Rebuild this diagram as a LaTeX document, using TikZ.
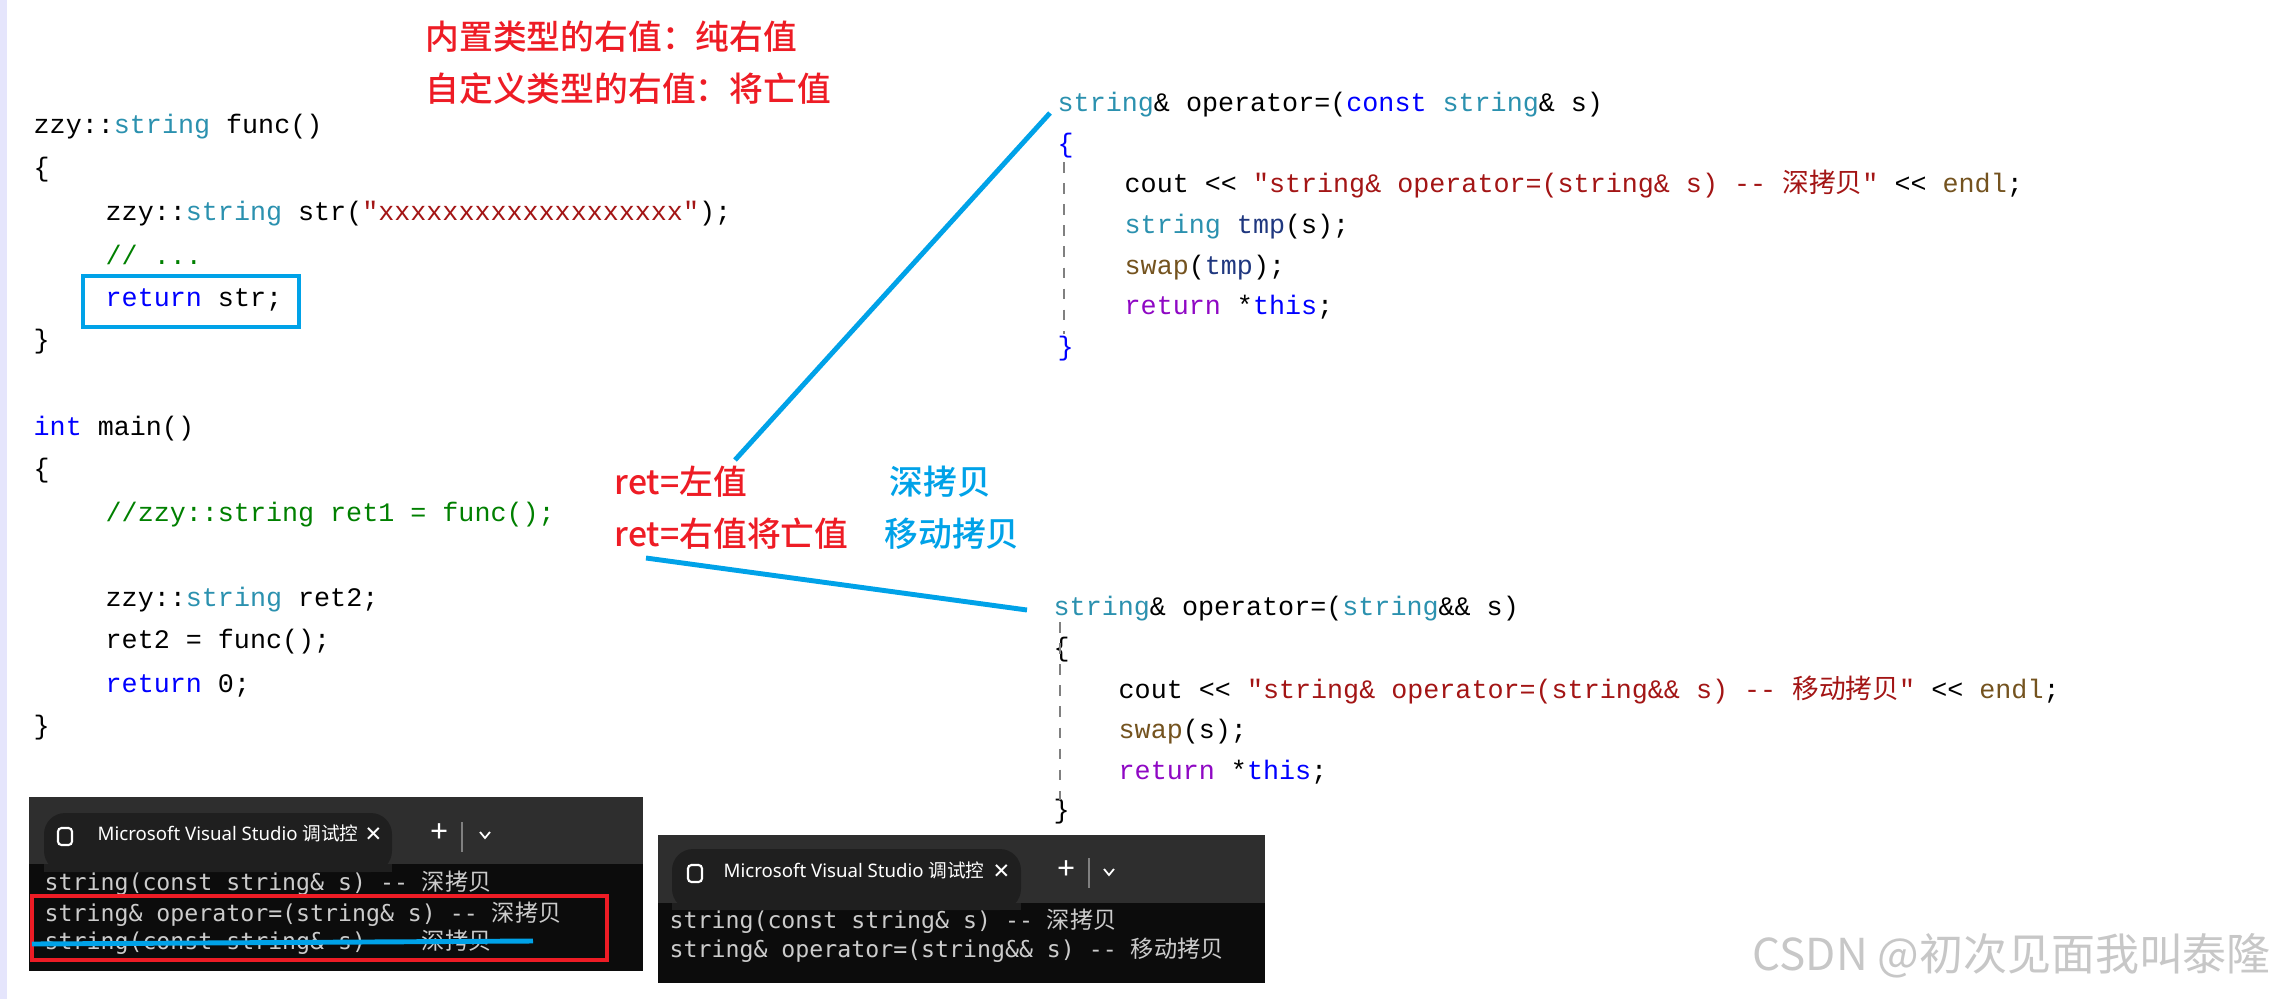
\documentclass[tikz,border=0pt]{standalone}
\usepackage{fontspec}
\setmonofont{Liberation Mono}
\newfontfamily\cjk{Noto Sans CJK SC}
\newfontfamily\cjkb{Noto Sans CJK SC Medium}
\newfontfamily\termfont{DejaVu Sans Mono}
\newfontfamily\uifont{Noto Sans}
\newfontfamily\symfont{DejaVu Sans}
\definecolor{kw}{HTML}{0000FF}
\definecolor{ty}{HTML}{2B91AF}
\definecolor{st}{HTML}{A31515}
\definecolor{cm}{HTML}{008000}
\definecolor{fn}{HTML}{74531F}
\definecolor{rt}{HTML}{8F08C4}
\definecolor{vr}{HTML}{1F377F}
\definecolor{note}{HTML}{EE1C25}
\definecolor{lnk}{HTML}{00A2E8}
\definecolor{tbar}{HTML}{2E2E2E}
\definecolor{ttab}{HTML}{1F1F1F}
\definecolor{tbody}{HTML}{0C0C0C}
\definecolor{ttext}{HTML}{CCCCCC}
\newcommand{\C}[1]{{\cjk #1}}
\begin{document}
\begin{tikzpicture}[x=0.01cm,y=-0.01cm,
  code/.style={anchor=base west,inner sep=0pt,font=\ttfamily\fontsize{7.6}{9}\selectfont},
  notered/.style={anchor=base west,inner sep=0pt,text=note,font=\cjkb\fontsize{9.6}{12}\selectfont},
  noteblue/.style={anchor=base west,inner sep=0pt,text=lnk,font=\cjkb\fontsize{9.6}{12}\selectfont},
  term/.style={anchor=base west,inner sep=0pt,text=ttext,font=\termfont\fontsize{6.6}{8}\selectfont},
  ui/.style={anchor=base west,inner sep=0pt,text=white,font=\uifont\fontsize{5.3}{6}\selectfont},
  link/.style={draw=lnk,line width=1.4pt}]
\useasboundingbox (0,0) rectangle (2277,999);
\fill[white] (0,0) rectangle (2277,999);
\fill[black!12!blue!10] (0,0) rectangle (7,999);

% notes
\node[notered] (n1) at (425,49) {内置类型的右值：纯右值};
\node[notered] (n2) at (425,101) {自定义类型的右值：将亡值};

% left code
\node[code] (l1) at (33,133) {zzy::\textcolor{ty}{string} func()};
\node[code] (l2) at (33,176) {\{};
\node[code] (l3) at (105,220) {zzy::\textcolor{ty}{string} str(\textcolor{st}{"xxxxxxxxxxxxxxxxxxx"});};
\node[code] (l4) at (105,264) {\textcolor{cm}{// ...}};
\node[code] (l5) at (105,306) {\textcolor{kw}{return} str;};
\node[code] (l6) at (33,348) {\}};
\node[code] (l7) at (33,435) {\textcolor{kw}{int} main()};
\node[code] (l8) at (33,477) {\{};
\node[code] (l9) at (105,521) {\textcolor{cm}{//zzy::string ret1 = func();}};
\node[code] (l10) at (105,606) {zzy::\textcolor{ty}{string} ret2;};
\node[code] (l11) at (105,648) {ret2 = func();};
\node[code] (l12) at (105,692) {\textcolor{kw}{return} 0;};
\node[code] (l13) at (33,734) {\}};
\draw[draw=lnk,line width=1.4pt] (83,276) rectangle (299,327);

% right block 1
\node[code] (a1) at (1057,111) {\textcolor{ty}{string}\& operator=(\textcolor{kw}{const} \textcolor{ty}{string}\& s)};
\node[code] (a2) at (1057,152) {\textcolor{kw}{\{}};
\node[code] (a3) at (1124,192) {cout << \textcolor{st}{"string\& operator=(string\& s) -- \C{深拷贝}"} << \textcolor{fn}{endl};};
\node[code] (a4) at (1124,233) {\textcolor{ty}{string} \textcolor{vr}{tmp}(s);};
\node[code] (a5) at (1124,274) {\textcolor{fn}{swap}(\textcolor{vr}{tmp});};
\node[code] (a6) at (1124,314) {\textcolor{rt}{return} *\textcolor{kw}{this};};
\node[code] (a7) at (1057,355) {\textcolor{kw}{\}}};
\draw[gray,dashed,line width=0.6pt] (1064,162) -- (1064,334);

% right block 2
\node[code] (b1) at (1053,615) {\textcolor{ty}{string}\& operator=(\textcolor{ty}{string}\&\& s)};
\node[code] (b2) at (1053,656) {\{};
\node[code] (b3) at (1118,698) {cout << \textcolor{st}{"string\& operator=(string\&\& s) -- \C{移动拷贝}"} << \textcolor{fn}{endl};};
\node[code] (b4) at (1118,738) {\textcolor{fn}{swap}(s);};
\node[code] (b5) at (1118,779) {\textcolor{rt}{return} *\textcolor{kw}{this};};
\node[code] (b6) at (1053,818) {\}};
\draw[gray,dashed,line width=0.6pt] (1060,622) -- (1060,800);

% labels
\node[notered] (r1) at (614,494) {ret=左值};
\node[notered] (r2) at (614,546) {ret=右值将亡值};
\node[noteblue] (d1) at (889,494) {深拷贝};
\node[noteblue] (d2) at (884,546) {移动拷贝};
\coordinate (p1) at (735,460);
\coordinate (q1) at (1050,113);
\coordinate (p2) at (646,558);
\coordinate (q2) at (1027,610);
\draw[link] (p1) -- (q1);
\draw[link] (p2) -- (q2);

% left terminal
\fill[tbar] (29,797) rectangle (643,971);
\fill[tbody] (29,864) rectangle (643,971);
\fill[ttab,rounded corners=6] (44,813) rectangle (392,872);
\fill[ttab] (44,864) rectangle (392,872);
\draw[white,line width=0.6pt,rounded corners=1] (58,828) rectangle (72,845);
\node[ui] (t1) at (97,840) {Microsoft Visual Studio {\cjk 调试控}};
\node[ui,font=\symfont\fontsize{6}{7}\selectfont] (t1x) at (364,841) {✕};
\node[ui] (t1p) at (430,842) {\fontsize{9}{9}\selectfont +};
\draw[gray,line width=0.5pt] (462,822) -- (462,852);
\coordinate (v1a) at (480,832);
\coordinate (v1b) at (485,838);
\coordinate (v1c) at (490,832);
\draw[white,line width=0.5pt] (v1a) -- (v1b) -- (v1c);
\node[term] (k1) at (44,890) {string(const string\& s) -- \C{深拷贝}};
\node[term] (k2) at (44,921) {string\& operator=(string\& s) -- \C{深拷贝}};
\node[term] (k3) at (44,949) {string(const string\& s) -- \C{深拷贝}};
\draw[draw=note,line width=1.4pt] (32,896) rectangle (607,960);
\coordinate (s1) at (32,944);
\coordinate (s2) at (533,941);
\draw[link] (s1) -- (s2);

% right terminal
\fill[tbar] (658,835) rectangle (1265,983);
\fill[tbody] (658,903) rectangle (1265,983);
\fill[ttab,rounded corners=6] (672,849) rectangle (1021,910);
\fill[ttab] (672,903) rectangle (1021,910);
\draw[white,line width=0.6pt,rounded corners=1] (688,865) rectangle (702,882);
\node[ui] (t2) at (723,877) {Microsoft Visual Studio {\cjk 调试控}};
\node[ui,font=\symfont\fontsize{6}{7}\selectfont] (t2x) at (992,878) {✕};
\node[ui] (t2p) at (1057,879) {\fontsize{9}{9}\selectfont +};
\draw[gray,line width=0.5pt] (1089,858) -- (1089,888);
\coordinate (v2a) at (1104,869);
\coordinate (v2b) at (1109,875);
\coordinate (v2c) at (1114,869);
\draw[white,line width=0.5pt] (v2a) -- (v2b) -- (v2c);
\node[term] (m1) at (669,928) {string(const string\& s) -- \C{深拷贝}};
\node[term] (m2) at (669,957) {string\& operator=(string\&\& s) -- \C{移动拷贝}};

% watermark
\node[anchor=base west,inner sep=0pt,text=black!22,font=\cjk\fontsize{12.5}{14}\selectfont] (wm) at (1752,970) {CSDN @初次见面我叫泰隆};
\end{tikzpicture}
\end{document}
